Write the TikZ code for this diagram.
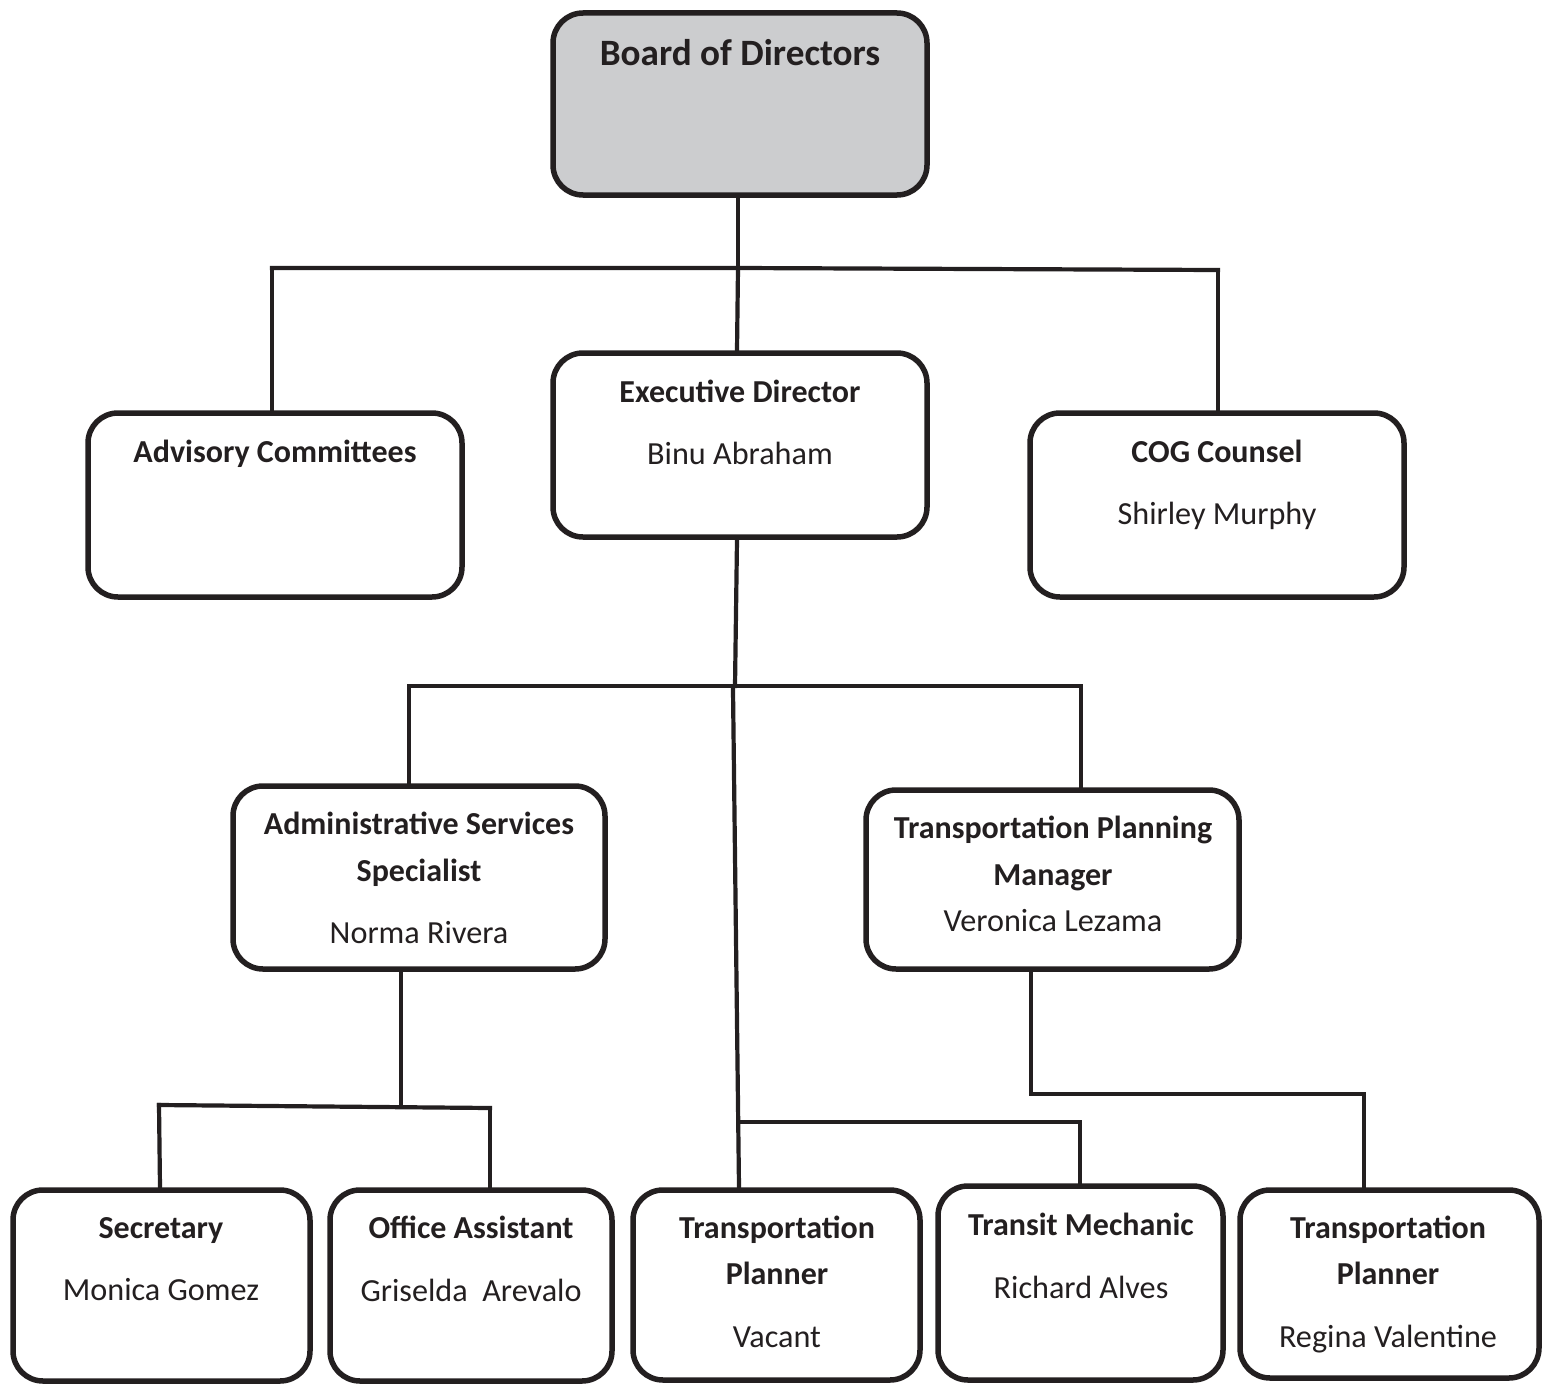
\documentclass[tikz,border=0pt]{standalone}
\usepackage{fontspec}
\setmainfont{Carlito}
\usetikzlibrary{fit}
\definecolor{ink}{HTML}{231F20}
\definecolor{boardgray}{HTML}{CCCDCF}
\tikzset{
  orgbox/.style={draw=ink, line width=2.75pt, rounded corners=15pt, inner sep=0pt, rectangle},
  link/.style={draw=ink, line width=2.1pt, line cap=rect, line join=miter},
  ttl/.style={font=\bfseries\fontsize{16}{19}\selectfont, text=ink, anchor=base, inner sep=0pt},
  bigttl/.style={font=\bfseries\fontsize{18.6}{22}\selectfont, text=ink, anchor=base, inner sep=0pt},
  nm/.style={font=\fontsize{16.1}{19}\selectfont, text=ink, anchor=base, inner sep=0pt}
}
\begin{document}
\begin{tikzpicture}[x=0.5pt,y=-0.5pt]
\useasboundingbox (0,0) rectangle (1553,1386);
% boxes
\node[orgbox, fill=boardgray, fit={(553,13) (927,195)}] (board) {};
\node[orgbox, fit={(88,413) (462,597)}] (adv) {};
\node[orgbox, fit={(553,353) (927,537)}] (exec) {};
\node[orgbox, fit={(1030,413) (1404,597)}] (cog) {};
\node[orgbox, fit={(233,786) (605,969)}] (admin) {};
\node[orgbox, fit={(866,790) (1239,969)}] (tpm) {};
\node[orgbox, fit={(13,1190) (310,1381)}] (sec) {};
\node[orgbox, fit={(330,1190) (612,1381)}] (off) {};
\node[orgbox, fit={(633,1190) (920,1380)}] (tpa) {};
\node[orgbox, fit={(938,1186) (1223,1380)}] (mech) {};
\node[orgbox, fit={(1240,1190) (1539,1378)}] (tpb) {};
% texts
\node[bigttl] (boardt) at (740,66) {Board of Directors};
\node[ttl] (advt) at (275,462) {Advisory Committees};
\node[ttl] (exect) at (740,402) {Executive Director};
\node[nm] (execn) at (740,464) {Binu Abraham};
\node[ttl] (cogt) at (1217,462) {COG Counsel};
\node[nm] (cogn) at (1217,524) {Shirley Murphy};
\node[ttl] (admint1) at (419,834) {Administrative Services};
\node[ttl] (admint2) at (419,881) {Specialist};
\node[nm] (adminn) at (419,943) {Norma Rivera};
\node[ttl] (tpmt1) at (1053,838) {Transportation Planning};
\node[ttl] (tpmt2) at (1053,885) {Manager};
\node[nm] (tpmn) at (1053,931) {Veronica Lezama};
\node[ttl] (sect) at (161,1238) {Secretary};
\node[nm] (secn) at (161,1300) {Monica Gomez};
\node[ttl] (offt) at (471,1238) {Office Assistant};
\node[nm] (offn) at (471,1301) {Griselda\ \ Arevalo};
\node[ttl] (tpat1) at (777,1238) {Transportation};
\node[ttl] (tpat2) at (777,1284) {Planner};
\node[nm] (tpan) at (777,1347) {Vacant};
\node[ttl] (mecht) at (1081,1235) {Transit Mechanic};
\node[nm] (mechn) at (1081,1298) {Richard Alves};
\node[ttl] (tpbt1) at (1388,1238) {Transportation};
\node[ttl] (tpbt2) at (1388,1284) {Planner};
\node[nm] (tpbn) at (1388,1347) {Regina Valentine};
% junction coordinates
\coordinate (j1) at (738,268);
\coordinate (ta) at (272,268);
\coordinate (tc) at (1218,270);
\coordinate (j2) at (735,686);
\coordinate (ma) at (409,686);
\coordinate (mc) at (1081,686);
\coordinate (va) at (739,1122);
\coordinate (vc) at (1080,1122);
\coordinate (j3) at (401,1104);
\coordinate (sa) at (159,1105);
\coordinate (sc) at (490,1108);
\coordinate (j4) at (1031,1094);
\coordinate (rc) at (1364,1094);
% connectors
\draw[link] (j1 |- board.south) -- (j1);
\draw[link] (ta) -- (j1) -- (tc);
\draw[link] (ta) -- (ta |- adv.north);
\draw[link] (j1) -- (737,350 |- exec.north);
\draw[link] (tc) -- (tc |- cog.north);
\draw[link] (737,0 |- exec.south) -- (j2);
\draw[link] (ma) -- (mc);
\draw[link] (ma) -- (ma |- admin.north);
\draw[link] (mc) -- (mc |- tpm.north);
\draw[link] (733,690) -- (va |- tpa.north);
\draw[link] (va) -- (vc) -- (vc |- mech.north);
\draw[link] (j3 |- admin.south) -- (j3);
\draw[link] (sa) -- (sc);
\draw[link] (sa) -- (160,0 |- sec.north);
\draw[link] (sc) -- (sc |- off.north);
\draw[link] (j4 |- tpm.south) -- (j4) -- (rc) -- (rc |- tpb.north);
\end{tikzpicture}
\end{document}
